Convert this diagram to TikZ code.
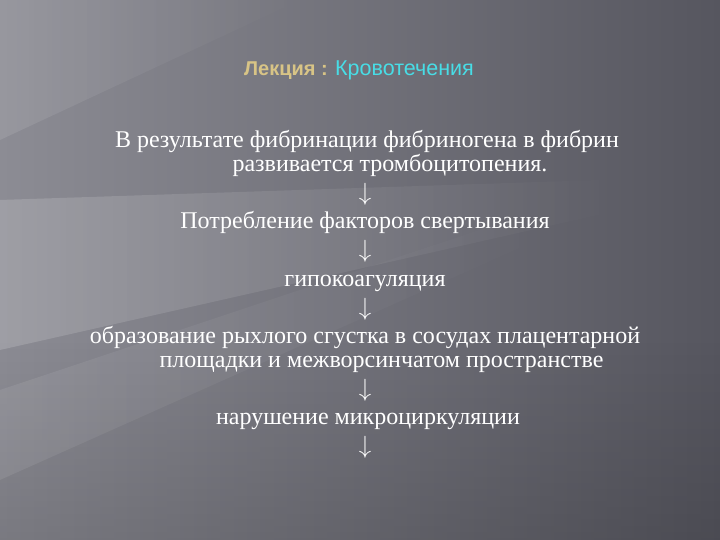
\documentclass[tikz,border=0pt]{standalone}
\usepackage{fontspec}
\setmainfont{Liberation Serif}
\newfontfamily\headfont{Liberation Sans}
\usetikzlibrary{matrix,fadings}

\definecolor{bgleft}{HTML}{8C8C94}
\definecolor{bgright}{HTML}{56565F}
\definecolor{lecturetan}{HTML}{D8C486}
\definecolor{topiccyan}{HTML}{48DDE6}

\begin{document}
\begin{tikzpicture}[x=1pt,y=1pt]
            % slide background
            \useasboundingbox (0,0) rectangle (720,540);
            \shade[left color=bgleft, right color=bgright] (0,0) rectangle (720,540);
            \fill[black, fill opacity=.13, path fading=north] (0,0) rectangle (720,200);
            \fill[white, fill opacity=.16, path fading=east] (0,340) -- (0,190) -- (620,330) -- (600,360) -- cycle;
            \fill[white, fill opacity=.08, path fading=east] (0,150) -- (0,60) -- (560,310) -- (540,330) -- cycle;
            \fill[white, fill opacity=.10, path fading=east] (0,540) -- (0,400) -- (300,540) -- cycle;
            % title
            \node (title) [anchor=base, inner sep=0pt, font=\headfont\fontsize{20}{20}\selectfont] at (359,464)
                {\textcolor{lecturetan}{\bfseries Лекция :} \textcolor{topiccyan}{\fontsize{21.5}{21.5}\selectfont Кровотечения}};
            % chain of consequences
            \matrix (flow) [matrix of nodes, row sep={28.75pt,between origins},
                nodes={anchor=base, inner sep=0pt, text=white, font=\fontsize{24}{24}\selectfont},
                matrix anchor=flow-1-1.base] at (367,392) {
                |[xshift=2pt]| В результате фибринации фибриногена в фибрин \\[-5.25pt]
                |[xshift=25pt]| развивается тромбоцитопения. \\
                $\downarrow$ \\
                Потребление факторов свертывания \\
                $\downarrow$ \\
                гипокоагуляция \\
                $\downarrow$ \\
                образование рыхлого сгустка в сосудах плацентарной \\[-5.25pt]
                |[xshift=16.5pt]| площадки и межворсинчатом пространстве \\
                $\downarrow$ \\
                |[xshift=3pt]| нарушение микроциркуляции \\
                $\downarrow$ \\
            };
        \end{tikzpicture}
\end{document}
